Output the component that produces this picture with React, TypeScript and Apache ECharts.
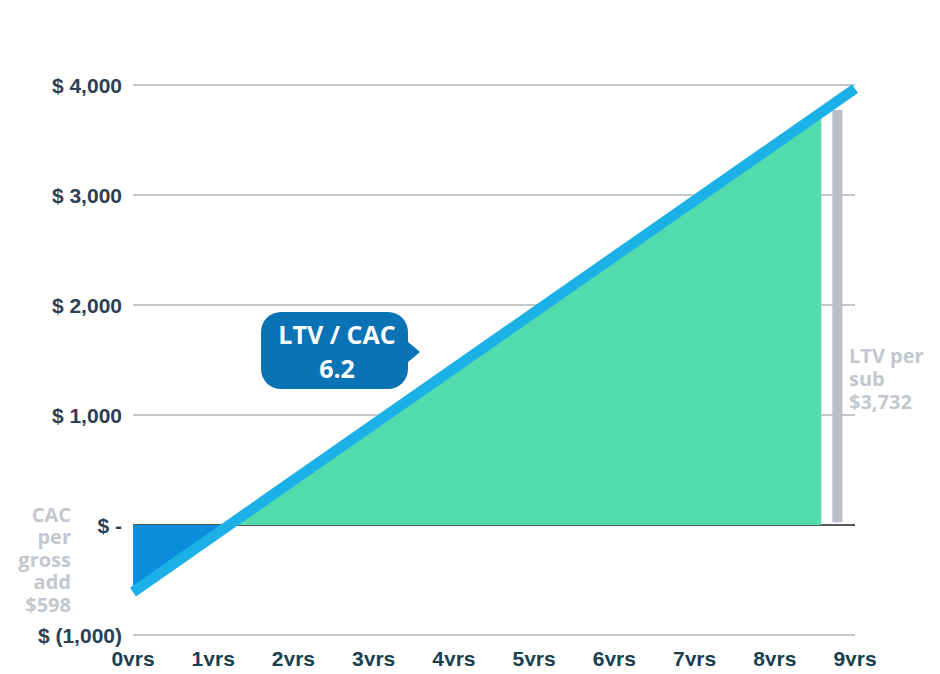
import React, { useEffect, useRef } from "react";
import * as echarts from "echarts";

const yearTicks = [0, 1, 2, 3, 4, 5, 6, 7, 8, 9];
const yTickLabels: Record<string, string> = {
  "-1000": "$ (1,000)",
  "0": "$ -",
  "1000": "$ 1,000",
  "2000": "$ 2,000",
  "3000": "$ 3,000",
  "4000": "$ 4,000",
};
// cumulative value line (years, $)
const ltvLine: [number, number][] = [
  [0, -610],
  [9, 3966],
];
const cacArea: [number, number][] = [
  [0, -598],
  [1.18, 0],
];
const ltvArea: [number, number][] = [
  [1.18, 0],
  [8.58, 3752],
];
const ltvBar: [number, number][] = [
  [8.78, 25],
  [8.78, 3773],
];
const cacBar: [number, number][] = [
  [-0.56, -118],
  [-0.56, -645],
];
const cacText = ["CAC", "per", "gross", "add", "$598"];
const ltvText = ["LTV per", "sub", "$3,732"];
const ratioText = ["LTV / CAC", "6.2"];

const AXIS_FONT = "'Liberation Sans', Arial, sans-serif";
const FONT = "'Open Sans', sans-serif";

export default function App() {
  const ref = useRef<HTMLDivElement>(null);
  useEffect(() => {
    if (!ref.current) return;
    const chart = echarts.init(ref.current, null, { renderer: "svg" });
    chart.setOption({
      animation: false,
      grid: { left: 133, right: 85, top: 85, bottom: 39 },
      xAxis: {
        type: "value",
        min: yearTicks[0],
        max: yearTicks[yearTicks.length - 1],
        interval: 1,
        axisLine: { show: false, onZero: false },
        axisTick: { show: false },
        splitLine: { show: false },
        axisLabel: {
          formatter: (v: number) => `${v}yrs`,
          color: "#17404f",
          fontFamily: AXIS_FONT,
          fontWeight: "bold",
          fontSize: 21,
          margin: 13,
        },
      },
      yAxis: {
        type: "value",
        min: -1000,
        max: 4000,
        interval: 1000,
        axisLine: { show: false },
        axisTick: { show: false },
        splitLine: {
          show: true,
          lineStyle: {
            color: ["#b5b5b5", "#222222", "#b5b5b5", "#b5b5b5", "#b5b5b5", "#b5b5b5"],
            width: 1.5,
          },
        },
        axisLabel: {
          formatter: (v: number) => yTickLabels[String(v)] ?? String(v),
          color: "#2d3f52",
          fontFamily: AXIS_FONT,
          fontWeight: "bold",
          fontSize: 21,
          margin: 11,
        },
      },
      series: [
        {
          type: "line",
          data: cacArea,
          symbol: "none",
          lineStyle: { width: 0 },
          areaStyle: { color: "#0a8ddb", opacity: 1, origin: 0 },
          z: 2,
        },
        {
          type: "line",
          data: ltvArea,
          symbol: "none",
          lineStyle: { width: 0 },
          areaStyle: { color: "#52dbad", opacity: 1, origin: 0 },
          z: 2,
        },
        {
          type: "line",
          data: ltvLine,
          symbol: "none",
          lineStyle: { width: 10.5, color: "#1bb1e7", cap: "butt" },
          z: 4,
        },
        {
          type: "line",
          data: ltvBar,
          symbol: "none",
          lineStyle: { width: 10, color: "#b8bec7", cap: "butt" },
          z: 3,
        },
        {
          type: "line",
          data: cacBar,
          symbol: "none",
          clip: false,
          lineStyle: { width: 10, color: "#b8bec7", cap: "butt" },
          z: 3,
        },
      ],
      graphic: [
        {
          type: "text",
          x: 71,
          y: 503,
          style: {
            text: cacText.join("\n"),
            align: "right",
            fill: "#c3c7ce",
            font: `bold 20px ${FONT}`,
            lineHeight: 22.5,
          },
        },
        {
          type: "text",
          x: 849,
          y: 344,
          style: {
            text: ltvText.join("\n"),
            align: "left",
            fill: "#c3c7ce",
            font: `bold 20px ${FONT}`,
            lineHeight: 23,
          },
        },
        {
          type: "group",
          x: 261,
          y: 312,
          children: [
            {
              type: "rect",
              shape: { x: 0, y: 0, width: 147, height: 77, r: 20 },
              style: { fill: "#0a73b6" },
            },
            {
              type: "polygon",
              shape: { points: [[140, 24], [159, 40], [140, 56]] },
              style: { fill: "#0a73b6" },
            },
            {
              type: "text",
              x: 76,
              y: 39,
              style: {
                text: ratioText.join("\n"),
                align: "center",
                verticalAlign: "middle",
                fill: "#ffffff",
                font: `bold 25px ${FONT}`,
                lineHeight: 34,
              },
            },
          ],
        },
      ],
    });
    return () => chart.dispose();
  }, []);
  return <div ref={ref} style={{ width: 940, height: 674, margin: -8 }} />;
}
